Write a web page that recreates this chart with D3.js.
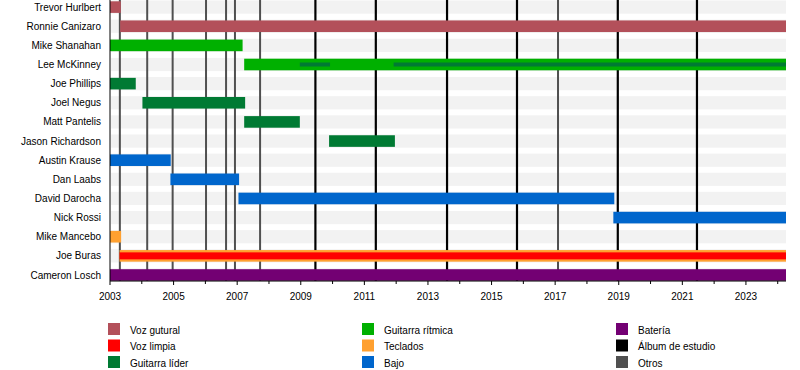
<!DOCTYPE html>
<html>
<head>
<meta charset="utf-8">
<script src="https://cdn.jsdelivr.net/npm/d3@7"></script>
<style>
  body { margin: 0; background: #fff; }
  text { font-family: "Liberation Sans", Arial, sans-serif; font-size: 10px; fill: #000; }
</style>
</head>
<body>
<svg id="chart" width="800" height="370"></svg>
<script>
// members top to bottom
var members = ["Trevor Hurlbert", "Ronnie Canizaro", "Mike Shanahan", "Lee McKinney", "Joe Phillips",
  "Joel Negus", "Matt Pantelis", "Jason Richardson", "Austin Krause", "Dan Laabs", "David Darocha",
  "Nick Rossi", "Mike Mancebo", "Joe Buras", "Cameron Losch"];

var roles = ["Voz gutural", "Voz limpia", "Guitarra líder", "Guitarra rítmica", "Teclados", "Bajo", "Batería", "Álbum de estudio", "Otros"];
var roleColors = ["#b3505a", "#ff0000", "#007a33", "#00b000", "#ffa030", "#0066cc", "#730073", "#000000", "#505050"];

// legend order (column by column)
var legendOrder = ["Voz gutural", "Voz limpia", "Guitarra líder", "Guitarra rítmica", "Teclados", "Bajo", "Batería", "Álbum de estudio", "Otros"];

// decimal years; size: "full", "inner", "thin"
var periods = [
  { member: "Trevor Hurlbert", role: "Voz gutural", from: 2003.0, to: 2003.34, size: "full" },
  { member: "Ronnie Canizaro", role: "Voz gutural", from: 2003.32, to: 2024.26, size: "full" },
  { member: "Mike Shanahan", role: "Guitarra rítmica", from: 2003.0, to: 2007.17, size: "full" },
  { member: "Lee McKinney", role: "Guitarra rítmica", from: 2007.22, to: 2024.26, size: "full" },
  { member: "Lee McKinney", role: "Guitarra líder", from: 2008.97, to: 2009.92, size: "thin" },
  { member: "Lee McKinney", role: "Guitarra líder", from: 2011.92, to: 2024.26, size: "thin" },
  { member: "Joe Phillips", role: "Guitarra líder", from: 2003.0, to: 2003.81, size: "full" },
  { member: "Joel Negus", role: "Guitarra líder", from: 2004.02, to: 2007.25, size: "full" },
  { member: "Matt Pantelis", role: "Guitarra líder", from: 2007.22, to: 2008.97, size: "full" },
  { member: "Jason Richardson", role: "Guitarra líder", from: 2009.89, to: 2011.96, size: "full" },
  { member: "Austin Krause", role: "Bajo", from: 2003.0, to: 2004.91, size: "full" },
  { member: "Dan Laabs", role: "Bajo", from: 2004.9, to: 2007.06, size: "full" },
  { member: "David Darocha", role: "Bajo", from: 2007.04, to: 2018.86, size: "full" },
  { member: "Nick Rossi", role: "Bajo", from: 2018.83, to: 2024.26, size: "full" },
  { member: "Mike Mancebo", role: "Teclados", from: 2003.0, to: 2003.35, size: "full" },
  { member: "Joe Buras", role: "Teclados", from: 2003.3, to: 2024.26, size: "full" },
  { member: "Joe Buras", role: "Voz limpia", from: 2003.3, to: 2024.26, size: "inner" },
  { member: "Cameron Losch", role: "Batería", from: 2003.0, to: 2024.26, size: "full" }
];

var albumDates = [2009.46, 2011.36, 2013.6, 2015.8, 2018.97, 2021.46];
var otherDates = [2003.31, 2004.17, 2004.97, 2006.02, 2006.65, 2006.93, 2007.72, 2017.09];

var tickYears = d3.range(2003, 2025);
var labelYears = ["2003", "2005", "2007", "2009", "2011", "2013", "2015", "2017", "2019", "2021", "2023"];

var startYear = 2003, endYear = 2024.26;

var svg = d3.select("#chart");
var left = 110, right = 786, axisY = 281;

var color = d3.scaleOrdinal().domain(roles).range(roleColors);

var x = d3.scaleLinear().domain([startYear, endYear]).range([left, right]);
var y = d3.scalePoint().domain(members).range([7.1, 275]);

var barH = { full: 11.6, inner: 7, thin: 4 };

// background bands
svg.append("g").selectAll("rect").data(members).join("rect")
  .attr("x", left + 1)
  .attr("y", d => y(d) - 6.6)
  .attr("width", right - left - 1)
  .attr("height", 13.2)
  .attr("fill", "#f2f2f2");

// vertical event lines
svg.append("g").selectAll("line").data(otherDates).join("line")
  .attr("x1", d => x(d)).attr("x2", d => x(d))
  .attr("y1", 0).attr("y2", axisY)
  .attr("stroke", color("Otros")).attr("stroke-width", 2);

svg.append("g").selectAll("line").data(albumDates).join("line")
  .attr("x1", d => x(d)).attr("x2", d => x(d))
  .attr("y1", 0).attr("y2", axisY)
  .attr("stroke", color("Álbum de estudio")).attr("stroke-width", 2.2);

// member bars
svg.append("g").selectAll("rect").data(periods).join("rect")
  .attr("x", d => x(d.from))
  .attr("y", d => y(d.member) - barH[d.size] / 2)
  .attr("width", d => x(d.to) - x(d.from))
  .attr("height", d => barH[d.size])
  .attr("fill", d => color(d.role));

// names
svg.append("g").selectAll("text").data(members).join("text")
  .attr("x", 101)
  .attr("y", d => y(d))
  .attr("dy", "0.35em")
  .attr("text-anchor", "end")
  .text(d => d);

// axes
svg.append("line")
  .attr("x1", left).attr("x2", left).attr("y1", 0).attr("y2", axisY)
  .attr("stroke", "#000").attr("stroke-width", 1);
svg.append("line")
  .attr("x1", left).attr("x2", right).attr("y1", axisY).attr("y2", axisY)
  .attr("stroke", "#000").attr("stroke-width", 1);

svg.append("g").selectAll("line").data(tickYears).join("line")
  .attr("x1", d => x(d)).attr("x2", d => x(d))
  .attr("y1", axisY).attr("y2", d => labelYears.indexOf(String(d)) >= 0 ? axisY + 4 : axisY + 3)
  .attr("stroke", "#000").attr("stroke-width", 1);

svg.append("g").selectAll("text").data(labelYears).join("text")
  .attr("x", d => x(+d))
  .attr("y", 296)
  .attr("dy", "0.35em")
  .attr("text-anchor", "middle")
  .text(d => d);

// legend, 3 columns of 3
var legend = svg.append("g").selectAll("g").data(legendOrder).join("g")
  .attr("transform", (d, i) => "translate(" + (108 + Math.floor(i / 3) * 254) + "," + (330.5 + (i % 3) * 16.5) + ")");

legend.append("rect")
  .attr("x", 0).attr("y", -7.5)
  .attr("width", 12).attr("height", 12)
  .attr("fill", d => color(d));

legend.append("text")
  .attr("x", 22)
  .attr("y", 0)
  .attr("dy", "0.32em")
  .text(d => d);
</script>
</body>
</html>
